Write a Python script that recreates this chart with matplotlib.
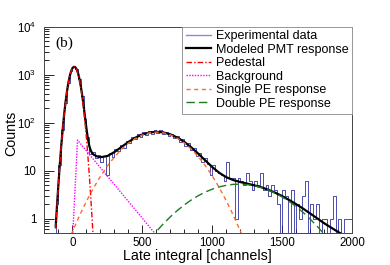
import numpy as np
import matplotlib
matplotlib.use("Agg")
import matplotlib.pyplot as plt
from matplotlib.ticker import MultipleLocator, LogLocator, FixedLocator, FuncFormatter, NullFormatter

# ---------------- data ----------------
bin_lo, bin_w = -200, 20
data_counts = [0, 0, 0, 0, 2, 13, 70, 258, 655, 1172,
               1441, 1282, 795, 362, 121, 49, 22, 24, 18, 21,
               15, 20, 8, 23, 19, 28, 25, 34, 30, 41,
               38, 50, 45, 57, 50, 64, 55, 67, 58, 70,
               61, 69, 57, 64, 53, 59, 48, 52, 40, 45,
               33, 37, 27, 30, 20, 23, 15, 18, 14, 8,
               13, 10, 9, 8, 6, 15, 7, 7, 1, 7,
               6, 5, 9, 6, 4, 6, 5, 9, 4, 5,
               3, 5, 4, 2, 0, 4, 3, 0, 4, 0,
               2, 1, 3, 6, 0, 2, 1, 2, 0, 1,
               1, 0, 1, 3, 0, 1, 0, 1, 1, 1]

ped_x = [-120, -110, -100, -90, -80, -70, -60, -50, -40, -30, -20, -10, 0, 10,
         20, 30, 40, 50, 60, 70, 80, 90, 100, 110, 120, 130, 140, 150]
ped_y = [0.615, 1.91, 5.41, 14.0, 33.3, 72.4, 144, 261, 434, 660, 918, 1168, 1359, 1449,
         1409, 1254, 1021, 762, 519, 324, 185, 96.3, 45.9, 20.0, 8.0, 2.92, 0.98, 0.30]

bkg_x = [-10, 36, 620]
bkg_y = [0.10, 43.0, 0.38]

spe_x = [-50, 0, 50, 100, 150, 200, 250, 300, 350, 400, 450, 500, 550, 600,
         650, 700, 750, 800, 850, 900, 950, 1000, 1050, 1100, 1150, 1200, 1250]
spe_y = [0.235, 0.537, 1.15, 2.30, 4.32, 7.59, 12.5, 19.2, 27.6, 37.2, 46.8, 55.3, 61.0, 63.1,
         61.0, 55.3, 46.8, 37.2, 27.6, 19.2, 12.5, 7.59, 4.32, 2.30, 1.15, 0.537, 0.235]

dpe_x = [550, 600, 650, 700, 750, 800, 850, 900, 950, 1000, 1050, 1100, 1150, 1200,
         1250, 1300, 1350, 1400, 1450, 1500, 1550, 1600, 1650, 1700, 1750, 1800, 1850]
dpe_y = [0.364, 0.542, 0.783, 1.094, 1.479, 1.937, 2.455, 3.01, 3.58, 4.11, 4.58, 4.93, 5.15, 5.20,
         5.08, 4.81, 4.40, 3.91, 3.35, 2.79, 2.24, 1.75, 1.32, 0.96, 0.679, 0.464, 0.308]

model_x = [-120, -110, -100, -90, -80, -70, -60, -50, -40, -30, -20, -10, 0, 10,
           20, 30, 40, 50, 60, 70, 80, 90, 100, 110, 120, 130, 140, 150, 175,
           200, 250, 300, 350, 400, 450, 500, 550, 600, 650, 700, 750, 800, 850,
           900, 950, 1000, 1050, 1100, 1150, 1200, 1250, 1300, 1350, 1400, 1450,
           1500, 1550, 1600, 1650, 1700, 1750, 1800, 1850, 1900, 1950]
model_y = [0.68, 1.99, 5.5, 14.1, 33.4, 72.5, 144, 261, 434, 660, 918, 1168, 1360, 1451,
           1415, 1275, 1063, 801, 555, 358, 217, 126, 73.6, 46.0, 32.6, 26.3, 23.2, 21.6, 19.7,
           18.9, 20.1, 24.3, 31.0, 39.5, 48.5, 56.5, 62.0, 64.1, 62.1, 56.6, 48.4, 39.2, 30.1,
           22.2, 16.1, 11.7, 8.9, 7.23, 6.30, 5.74, 5.32, 4.90, 4.47, 3.96, 3.43,
           2.91, 2.41, 1.97, 1.59, 1.26, 1.00, 0.79, 0.64, 0.52, 0.43]

labels = ["Experimental data", "Modeled PMT response", "Pedestal", "Background",
          "Single PE response", "Double PE response"]
x_ticks = [0, 500, 1000, 1500, 2000]

# ---------------- style ----------------
plt.rcParams['font.family'] = ['Liberation Sans', 'DejaVu Sans']
plt.rcParams['mathtext.fontset'] = 'custom'
plt.rcParams['mathtext.rm'] = 'Liberation Sans'
plt.rcParams['mathtext.it'] = 'Liberation Sans:italic'

fig = plt.figure(figsize=(3.9, 2.65), dpi=100)
ax = fig.add_axes([0.1141, 0.1208, 0.7897, 0.7792])
ax.set_yscale('log')

edges = bin_lo + bin_w * np.arange(len(data_counts) + 1)
vals = np.r_[data_counts, data_counts[-1]]
ax.step(edges, vals, where='post', color='#1c1c96', lw=0.55, label=labels[0], zorder=2)
ax.plot(model_x, model_y, color='black', lw=1.6, label=labels[1], zorder=3)
ax.plot(ped_x, ped_y, color='#ff0000', lw=1.0, ls=(0, (4, 1.5, 1, 1.5)), label=labels[2], zorder=4)
ax.plot(bkg_x, bkg_y, color='#ff00ff', lw=1.0, ls=(0, (1, 1)), label=labels[3], zorder=4)
ax.plot(spe_x, spe_y, color='#ff6a33', lw=1.0, ls=(0, (3, 2.5)), label=labels[4], zorder=4)
ax.plot(dpe_x, dpe_y, color='#1e7a1e', lw=1.0, ls=(0, (6, 3)), label=labels[5], zorder=4)

ax.set_xlim(-200, 2000)
ax.set_ylim(0.5, 1e4)

ax.xaxis.set_major_locator(FixedLocator(x_ticks))
ax.xaxis.set_minor_locator(MultipleLocator(100))
ax.yaxis.set_major_locator(LogLocator(base=10, numticks=10))
ax.yaxis.set_minor_locator(LogLocator(base=10, subs=np.arange(2, 10), numticks=20))
ax.yaxis.set_minor_formatter(NullFormatter())

def yfmt(v, pos):
    e = int(round(np.log10(v)))
    if e == 0:
        return '1'
    if e == 1:
        return '10'
    return r'$10^{%d}$' % e
ax.yaxis.set_major_formatter(FuncFormatter(yfmt))

ax.tick_params(which='both', direction='in', top=False, right=False, width=0.6, colors='black')
ax.tick_params(axis='x', which='major', length=6, pad=3, labelsize=8.3)
ax.tick_params(axis='x', which='minor', length=3)
ax.tick_params(axis='y', which='major', length=7, pad=6, labelsize=8.3)
ax.tick_params(axis='y', which='minor', length=3.5)
for s in ax.spines.values():
    s.set_linewidth(0.7)
    s.set_color('#444444')

ax.set_xlabel("Late integral [channels]", fontsize=10.3)
ax.set_ylabel("Counts", fontsize=10.3)
ax.xaxis.set_label_coords(0.498, -0.078)
ax.xaxis.label.set_va('top')
ax.yaxis.set_label_coords(-0.085, 0.48)

ax.text(0.035, 0.952, "(b)", transform=ax.transAxes, ha='left', va='top',
        fontsize=11, family=['Liberation Serif', 'DejaVu Serif'])

leg = ax.legend(loc='upper right', bbox_to_anchor=(1.0, 1.0), borderaxespad=0,
                fontsize=9, frameon=True, fancybox=False, framealpha=1,
                edgecolor='#999999', handlelength=2.0, handletextpad=0.4,
                labelspacing=0.12, borderpad=0.3)
leg.get_frame().set_linewidth(0.7)
for h in leg.get_lines():
    h.set_linewidth(1.0 if h.get_color() != 'black' else 1.6)
leg.get_lines()[0].set_color('#8a8ad4')

fig.savefig("out.png", dpi=100)
